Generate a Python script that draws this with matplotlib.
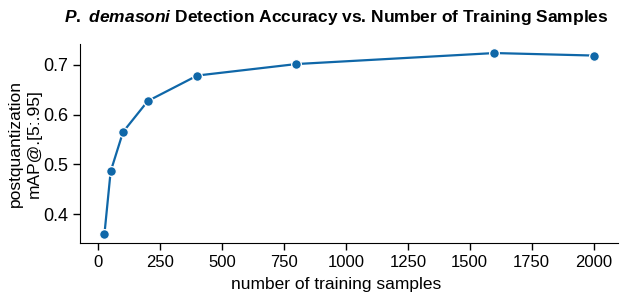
import matplotlib
matplotlib.use("Agg")
import matplotlib.pyplot as plt

plt.rcParams['font.family'] = ['Liberation Sans', 'DejaVu Sans']
plt.rcParams['mathtext.fontset'] = 'custom'
plt.rcParams['mathtext.it'] = 'Liberation Sans:italic:bold'
plt.rcParams['mathtext.rm'] = 'Liberation Sans:bold'

samples = [25, 50, 100, 200, 400, 800, 1600, 2000]
map_vals = [0.361, 0.486, 0.565, 0.627, 0.678, 0.701, 0.723, 0.718]
xticks = [0, 250, 500, 750, 1000, 1250, 1500, 1750, 2000]
yticks = [0.4, 0.5, 0.6, 0.7]

color = '#0f67a8'
fig = plt.figure(figsize=(6.24, 2.95), dpi=100)
ax = fig.add_axes([80/624, 1-243/295, 538/624, 199/295])
ax.plot(samples, map_vals, color=color, lw=1.6, marker='o', ms=7,
        markerfacecolor=color, markeredgecolor='white', markeredgewidth=0.9)
ax.set_xticks(xticks)
ax.set_yticks(yticks)
ax.tick_params(axis='x', labelsize=12, length=5, width=1)
ax.tick_params(axis='y', labelsize=13, length=5, width=1)
ax.spines['top'].set_visible(False)
ax.spines['right'].set_visible(False)
ax.set_xlabel('number of training samples', fontsize=12.5, labelpad=2)
ax.xaxis.set_label_coords((336-80)/538, -0.17)
ax.set_ylabel('postquantization\nmAP@.[5:.95]', fontsize=12.5, linespacing=1.3)
ax.yaxis.set_label_coords((42-80)/538, 0.5)
ax.set_title(r'$\it{P.\ demasoni}$ Detection Accuracy vs. Number of Training Samples',
             fontsize=12.5, fontweight='bold', pad=16, x=(336-80)/538)
fig.savefig('out.png', dpi=100)
